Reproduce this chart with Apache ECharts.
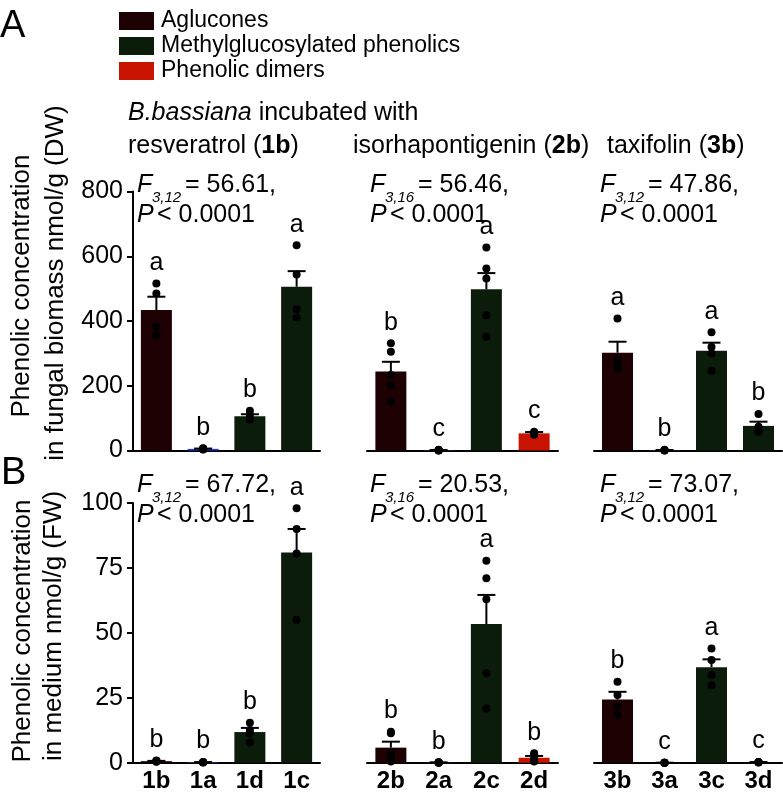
<!DOCTYPE html>
<html>
<head>
<meta charset="utf-8">
<script src="https://cdn.jsdelivr.net/npm/echarts@6/dist/echarts.min.js"></script>
<style>
    html, body { margin: 0; padding: 0; background: #fff; }
    #main { width: 783px; height: 801px; }
</style>
</head>
<body>
<div id="main"></div>
<script>
    // categories per substrate group
    var cats1 = ['1b', '1a', '1d', '1c'];
    var cats2 = ['2b', '2a', '2c', '2d'];
    var cats3 = ['3b', '3a', '3c', '3d'];
    // compound class of each bar (sets colour)
    var kind1 = ['agl', 'other', 'methyl', 'methyl'];
    var kind2 = ['agl', 'other', 'methyl', 'dimer'];
    var kind3 = ['agl', 'other', 'methyl', 'methyl'];

    // A: fungal biomass, nmol/g DW
    var meanA1 = [434, 5, 106, 506];
    var semA1 = [41, 1, 6, 48];
    var ptsA1 = [[516, 485, 382, 356], [7, 6, 4, 3], [123, 110, 97, 96], [634, 544, 436, 411]];
    var lettersA1 = ['a', 'b', 'b', 'a'];

    var meanA2 = [244, 1, 498, 53];
    var semA2 = [30, 0.5, 50, 4];
    var ptsA2 = [[331, 305, 233, 200, 151], [2, 1, 1, 1, 0], [627, 562, 531, 418, 351], [58, 55, 53, 50, 49]];
    var lettersA2 = ['b', 'c', 'a', 'c'];

    var meanA3 = [302, 1, 308, 76];
    var semA3 = [34, 0.5, 25, 13];
    var ptsA3 = [[408, 279, 264, 254], [2, 1, 1, 0], [365, 320, 300, 246], [113, 73, 60, 58]];
    var lettersA3 = ['a', 'b', 'a', 'b'];

    // B: medium, nmol/g FW
    var meanB1 = [0.6, 0.2, 11.8, 80.9];
    var semB1 = [0.1, 0.05, 1.6, 9.1];
    var ptsB1 = [[0.8, 0.7, 0.5, 0.4], [0.3, 0.2, 0.2, 0.1], [15.4, 12.6, 11.3, 7.9], [98, 90, 80.6, 55]];
    var lettersB1 = ['b', 'b', 'b', 'a'];

    var meanB2 = [5.8, 0.1, 53.4, 1.9];
    var semB2 = [2.3, 0.05, 11.2, 0.7];
    var ptsB2 = [[11.9, 11.3, 3.6, 1.7, 0.5], [0.2, 0.1, 0.1, 0.1, 0], [77.8, 71, 62.9, 34.4, 20.9], [3.6, 3.0, 1.5, 1.0, 0.5]];
    var lettersB2 = ['b', 'b', 'a', 'b'];

    var meanB3 = [24.3, 0, 36.8, 0.2];
    var semB3 = [3, 0, 3, 0.05];
    var ptsB3 = [[31.2, 26.1, 21.6, 18.4], [0, 0, 0, 0], [44, 39.5, 33.8, 29.7], [0.3, 0.2, 0.2, 0.1]];
    var lettersB3 = ['b', 'c', 'a', 'c'];

    // ANOVA results
    var fDfA = ['3,12', '3,16', '3,12'];
    var fValA = ['56.61', '56.46', '47.86'];
    var fDfB = ['3,12', '3,16', '3,12'];
    var fValB = ['67.72', '20.53', '73.07'];

    var yMaxA = 800, yStepA = 200;
    var yMaxB = 100, yStepB = 25;

    var legendNames = ['Aglucones', 'Methylglucosylated phenolics', 'Phenolic dimers'];
    var legendKinds = ['agl', 'methyl', 'dimer'];
    var groupTitles = ['resveratrol', 'isorhapontigenin', 'taxifolin'];
    var groupCodes = ['1b', '2b', '3b'];

    var FONT = '"Liberation Sans", Arial, sans-serif';
    var colorOf = {agl: '#1e0102', methyl: '#0b1c0b', dimer: '#c81300', other: '#2a3ad6'};

    var panels = [
        {cats: cats1, kind: kind1, mean: meanA1, sem: semA1, pts: ptsA1, letters: lettersA1},
        {cats: cats2, kind: kind2, mean: meanA2, sem: semA2, pts: ptsA2, letters: lettersA2},
        {cats: cats3, kind: kind3, mean: meanA3, sem: semA3, pts: ptsA3, letters: lettersA3},
        {cats: cats1, kind: kind1, mean: meanB1, sem: semB1, pts: ptsB1, letters: lettersB1},
        {cats: cats2, kind: kind2, mean: meanB2, sem: semB2, pts: ptsB2, letters: lettersB2},
        {cats: cats3, kind: kind3, mean: meanB3, sem: semB3, pts: ptsB3, letters: lettersB3}
    ];
    var colLeft = [133, 367, 594], colWidth = [187, 191, 188];
    var rowTop = [191.5, 503], rowHeight = [259, 259.7];
    var yMax = [yMaxA, yMaxB], yStep = [yStepA, yStepB];

    var grids = [], xAxes = [], yAxes = [], series = [];

    function errRender(params, api) {
        var base = api.coord([api.value(0), api.value(1)]);
        var top = api.coord([api.value(0), api.value(2)]);
        var st = {stroke: '#000', lineWidth: 2};
        return {
            type: 'group',
            children: [
                {type: 'line', shape: {x1: base[0], y1: base[1], x2: top[0], y2: top[1]}, style: st},
                {type: 'line', shape: {x1: top[0] - 9, y1: top[1], x2: top[0] + 9, y2: top[1]}, style: st}
            ]
        };
    }

    panels.forEach(function (p, i) {
        var row = Math.floor(i / 3), col = i % 3;
        grids.push({left: colLeft[col], top: rowTop[row], width: colWidth[col], height: rowHeight[row]});
        xAxes.push({
            type: 'category', gridIndex: i, data: p.cats,
            axisLine: {lineStyle: {color: '#000', width: 2}},
            axisTick: {show: false},
            axisLabel: {show: row == 1, color: '#000', fontFamily: FONT, fontWeight: 'bold', fontSize: 24, margin: 7}
        });
        yAxes.push({
            type: 'value', gridIndex: i, min: 0, max: yMax[row], interval: yStep[row],
            show: col == 0,
            splitLine: {show: false},
            axisLine: {show: true, lineStyle: {color: '#000', width: 2}},
            axisTick: {show: true, length: 6, lineStyle: {color: '#000', width: 2}},
            axisLabel: {color: '#000', fontFamily: FONT, fontSize: 25, margin: 10}
        });

        var barData = p.mean.map(function (v, k) {
            return {value: v, itemStyle: {color: colorOf[p.kind[k]]}};
        });
        var errData = p.mean.map(function (v, k) { return [k, v, v + p.sem[k]]; });
        var dotData = [];
        var letterData = [];
        p.pts.forEach(function (arr, k) {
            arr.forEach(function (v) { dotData.push([k, v]); });
            letterData.push([k, Math.max.apply(null, arr)]);
        });

        series.push({type: 'bar', xAxisIndex: i, yAxisIndex: i, barWidth: 31, data: barData, z: 2, silent: true});
        series.push({type: 'custom', xAxisIndex: i, yAxisIndex: i, data: errData, renderItem: errRender, z: 3, silent: true});
        series.push({
            type: 'scatter', xAxisIndex: i, yAxisIndex: i, data: dotData, symbolSize: 8,
            itemStyle: {color: '#000', opacity: 1}, z: 4, silent: true
        });
        series.push({
            type: 'scatter', xAxisIndex: i, yAxisIndex: i, data: letterData, symbolSize: 0, z: 5, silent: true,
            itemStyle: {color: '#000', opacity: 1},
            label: {
                show: true, position: 'top', distance: 8, color: '#000', opacity: 1, fontFamily: FONT, fontSize: 25,
                formatter: function (d) { return p.letters[d.dataIndex]; }
            }
        });
    });

    function txt(x, y, text, font) {
        return {type: 'text', x: x, y: y, style: {text: text, font: font, fill: '#000', align: 'left', verticalAlign: 'middle'}};
    }

    // F / P annotation of one group
    function statText(x, y, df, val) {
        return [
            txt(x, y, 'F', 'italic 25px ' + FONT),
            txt(x + 15, y + 12, df, 'italic 15px ' + FONT),
            txt(x + 48, y, '= ' + val + ',', '25px ' + FONT),
            txt(x, y + 29.5, 'P', 'italic 25px ' + FONT),
            txt(x + 20, y + 29.5, '< 0.0001', '25px ' + FONT)
        ];
    }

    var graphics = [];
    graphics.push(txt(0, 27, 'A', '38px ' + FONT));
    graphics.push(txt(1, 474, 'B', '38px ' + FONT));

    // legend
    var legendY = [21, 46, 71];
    legendNames.forEach(function (name, k) {
        graphics.push({type: 'rect', shape: {x: 119, y: legendY[k] - 9, width: 35, height: 18}, style: {fill: colorOf[legendKinds[k]]}});
        graphics.push(txt(161, legendY[k], name, '23px ' + FONT));
    });

    // group headings
    var headRich = {
        n: {fontFamily: FONT, fontSize: 25, fill: '#000'},
        b: {fontFamily: FONT, fontSize: 25, fontWeight: 'bold', fill: '#000'},
        i: {fontFamily: FONT, fontSize: 25, fontStyle: 'italic', fill: '#000'}
    };
    graphics.push({type: 'text', x: 128, y: 113, style: {text: '{i|B.bassiana}{n| incubated with}', rich: headRich, verticalAlign: 'middle'}});
    var headX = [128, 353, 607];
    groupTitles.forEach(function (t, k) {
        graphics.push({
            type: 'text', x: headX[k], y: 146,
            style: {text: '{n|' + t + ' (}{b|' + groupCodes[k] + '}{n|)}', rich: headRich, verticalAlign: 'middle'}
        });
    });

    var statX = [137, 370, 600];
    for (var c = 0; c < 3; c++) {
        graphics = graphics.concat(statText(statX[c], 185.5, fDfA[c], fValA[c]));
        graphics = graphics.concat(statText(statX[c], 485.5, fDfB[c], fValB[c]));
    }

    // rotated y-axis titles
    function vtxt(x, y, text) {
        return {type: 'text', x: x, y: y, rotation: Math.PI / 2,
            style: {text: text, font: '26px ' + FONT, fill: '#000', align: 'center', verticalAlign: 'middle'}};
    }
    graphics.push(vtxt(22, 286, 'Phenolic concentration'));
    graphics.push(vtxt(56, 283, 'in fungal biomass nmol/g (DW)'));
    graphics.push(vtxt(23, 631, 'Phenolic concentration'));
    graphics.push(vtxt(54, 626, 'in medium nmol/g (FW)'));

    var chart = echarts.init(document.getElementById('main'));
    chart.setOption({
        animation: false,
        backgroundColor: '#fff',
        grid: grids,
        xAxis: xAxes,
        yAxis: yAxes,
        series: series,
        graphic: graphics
    });
    window.onresize = function () {
        chart.resize();
    };
</script>
</body>
</html>
